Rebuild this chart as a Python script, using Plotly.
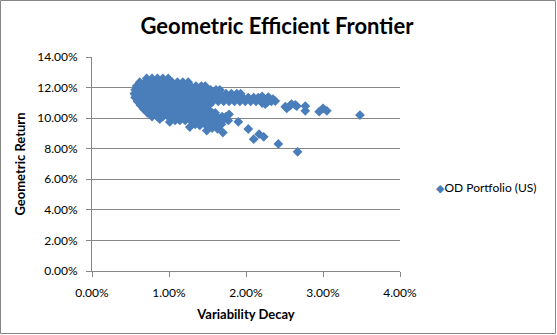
import plotly.graph_objects as go

# Main cloud, one named list of variability-decay values (%) per row of equal geometric return (%)
row_returns = [12.60, 12.35, 12.10, 11.85, 11.60, 11.35, 11.10, 10.85, 10.60, 10.35, 10.10, 9.85]
row_decays = [
    [0.71, 0.78, 0.85, 0.92, 0.99],
    [0.62, 0.69, 0.76, 0.83, 0.90, 0.97, 1.04, 1.11, 1.18, 1.25],
    [0.58, 0.65, 0.72, 0.79, 0.86, 0.93, 1.00, 1.07, 1.14, 1.21, 1.28, 1.35, 1.42, 1.47],
    [0.56, 0.63, 0.70, 0.77, 0.84, 0.91, 0.98, 1.05, 1.12, 1.19, 1.26, 1.33, 1.40, 1.47, 1.54, 1.61, 1.66],
    [0.55, 0.62, 0.69, 0.76, 0.83, 0.90, 0.97, 1.04, 1.11, 1.18, 1.25, 1.32, 1.39, 1.46, 1.53, 1.60, 1.67,
     1.74, 1.81, 1.88, 1.93],
    [0.56, 0.63, 0.70, 0.77, 0.84, 0.91, 0.98, 1.05, 1.12, 1.19, 1.26, 1.33, 1.40, 1.47, 1.54, 1.61, 1.68,
     1.75, 1.82, 1.89, 1.96, 2.03, 2.10, 2.16],
    [0.59, 0.66, 0.73, 0.80, 0.87, 0.94, 1.01, 1.08, 1.15, 1.22, 1.29, 1.36, 1.43, 1.50, 1.57, 1.64, 1.71,
     1.78, 1.85, 1.92, 1.99, 2.06, 2.13],
    [0.63, 0.70, 0.77, 0.84, 0.91, 0.98, 1.05, 1.12, 1.19, 1.26, 1.33, 1.40, 1.47, 1.52],
    [0.67, 0.74, 0.81, 0.88, 0.95, 1.02, 1.09, 1.16, 1.23, 1.30, 1.37, 1.44, 1.50],
    [0.72, 0.79, 0.86, 0.93, 1.00, 1.07, 1.14, 1.21, 1.28, 1.35, 1.42, 1.49, 1.56, 1.60],
    [0.78, 0.85, 0.92, 0.99, 1.06, 1.13, 1.20, 1.27, 1.34, 1.41, 1.48, 1.55, 1.62, 1.69, 1.74],
    [1.08, 1.14, 1.21, 1.28, 1.35, 1.42, 1.49, 1.56, 1.63, 1.70, 1.77],
]

# Lower edge of the cloud, isolated points and the right-hand tail
edge_decay = [0.88, 1.01, 1.27, 1.34, 1.40, 1.47, 1.54, 1.61, 1.68, 1.49, 1.56, 1.63, 1.70, 1.78,
              1.90, 2.03, 2.10, 2.17, 2.23, 2.42, 2.67]
edge_return = [9.94, 9.75, 9.42, 9.60, 9.52, 9.60, 9.60, 9.60, 9.60, 9.19, 9.35, 9.30, 9.06, 10.25,
               9.76, 9.29, 8.62, 8.95, 8.78, 8.31, 7.80]
tail_decay = [2.21, 2.22, 2.29, 2.35, 2.21, 2.28, 2.33, 2.38, 2.25, 2.51, 2.53, 2.57, 2.59, 2.64, 2.66,
              2.77, 2.77, 2.95, 3.00, 3.05, 3.48]
tail_return = [11.42, 11.31, 11.38, 11.25, 10.99, 11.05, 11.10, 11.12, 10.92, 10.75, 10.64, 10.80, 10.92,
               10.86, 10.79, 10.79, 10.48, 10.42, 10.64, 10.48, 10.20]

series_name = "OD Portfolio (US)"
x_ticks = [0, 1, 2, 3, 4]
y_ticks = [0, 2, 4, 6, 8, 10, 12, 14]

decay, ret = [], []
for r, xs in zip(row_returns, row_decays):
    for x in xs:
        decay.append(x)
        ret.append(r)
decay += edge_decay + tail_decay
ret += edge_return + tail_return

FONT = "Lato"
GRAY = "#868686"
BLUE = "#4a7ebb"

fig = go.Figure()
fig.add_trace(go.Scatter(
    x=decay, y=ret, mode="markers", name=series_name, showlegend=False,
    marker=dict(symbol="diamond", size=7.5, color=BLUE, line=dict(width=0)),
))

# plot area: x 92..400 px, y 57..271 px
def px_to_paper_x(px):
    return (px - 92) / 308.0

def px_to_paper_y(py):
    return (271 - py) / 214.0

fig.update_layout(
    width=557, height=335,
    margin=dict(l=92, r=157, t=57, b=64, pad=0, autoexpand=False),
    paper_bgcolor="white", plot_bgcolor="white",
    font=dict(family=FONT, size=12, color="#000000"),
    title=dict(text="<b>Geometric Efficient Frontier</b>", x=277 / 557, xanchor="center",
               y=1 - 26 / 335, yanchor="middle", yref="container",
               font=dict(family=FONT, size=22, color="#000000")),
    showlegend=False,
    xaxis=dict(range=[0, 4], tickvals=x_ticks, ticktext=[f"{v:.2f}%" for v in x_ticks],
               showgrid=False, zeroline=False, showline=True, linecolor=GRAY, linewidth=1,
               ticks="outside", ticklen=5, tickcolor=GRAY, ticklabelstandoff=6,
               tickfont=dict(family=FONT, size=12),
               title=dict(text="<b>Variability Decay</b>", standoff=10,
                          font=dict(family=FONT, size=13))),
    yaxis=dict(range=[0, 14], tickvals=y_ticks, ticktext=[f"{v:.2f}%" for v in y_ticks],
               showgrid=True, gridcolor=GRAY, gridwidth=1, zeroline=False,
               showline=True, linecolor=GRAY, linewidth=1,
               ticks="outside", ticklen=5, tickcolor=GRAY, ticklabelstandoff=6,
               tickfont=dict(family=FONT, size=12),
               title=dict(text="<b>Geometric Return</b>", standoff=8,
                          font=dict(family=FONT, size=13))),
    annotations=[dict(
        xref="paper", yref="paper", x=px_to_paper_x(434), y=px_to_paper_y(187),
        xanchor="left", yanchor="middle", showarrow=False, align="left",
        text=f"<span style='font-family:DejaVu Sans;font-size:11px;color:{BLUE}'>◆</span>{series_name}",
        font=dict(family=FONT, size=12, color="#000000"),
    )],
    shapes=[dict(type="rect", xref="paper", yref="paper",
                 x0=px_to_paper_x(0.5), x1=px_to_paper_x(555.5),
                 y0=px_to_paper_y(333.5), y1=px_to_paper_y(0.5),
                 line=dict(color=GRAY, width=1), fillcolor="rgba(0,0,0,0)", layer="below")],
)

fig.write_html("out.html")
